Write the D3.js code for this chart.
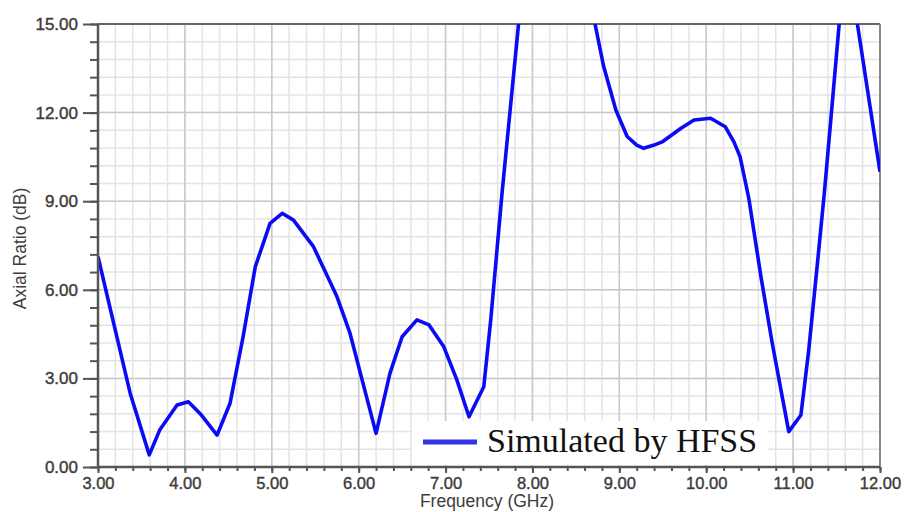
<!DOCTYPE html>
<html>
<head>
<meta charset="utf-8">
<script src="https://cdn.jsdelivr.net/npm/d3@7"></script>
<style>
  body { margin: 0; background: #fff; }
  svg { display: block; }
</style>
</head>
<body>
<svg id="chart" width="906" height="512"></svg>
<script>
// Axial ratio vs frequency
const freq = [3.00, 3.18, 3.37, 3.59, 3.71, 3.91, 4.04, 4.19, 4.37, 4.52, 4.67, 4.81, 4.98, 5.12, 5.25, 5.48, 5.75, 5.90,
  6.06, 6.20, 6.36, 6.50, 6.67, 6.81, 6.98, 7.13, 7.27, 7.44, 7.52, 7.65, 7.84, 8.10, 8.40, 8.72, 8.82, 8.96, 9.09, 9.20,
  9.28, 9.40, 9.50, 9.71, 9.86, 10.05, 10.22, 10.32, 10.39, 10.49, 10.63, 10.76, 10.86, 10.95, 11.09, 11.18, 11.28, 11.36,
  11.45, 11.53, 11.63, 11.74, 12.00];
const axialRatio = [7.12, 4.87, 2.50, 0.41, 1.25, 2.10, 2.21, 1.76, 1.08, 2.16, 4.41, 6.78, 8.25, 8.59, 8.36, 7.46, 5.77, 4.53,
  2.72, 1.14, 3.17, 4.41, 4.98, 4.81, 4.07, 2.95, 1.70, 2.72, 4.98, 9.27, 15.0, 19.5, 21.0, 15.0, 13.56, 12.09, 11.19, 10.90,
  10.79, 10.90, 11.02, 11.47, 11.75, 11.81, 11.52, 11.00, 10.50, 9.10, 6.44, 4.19, 2.61, 1.20, 1.76, 3.96, 6.90, 9.30,
  12.30, 15.0, 16.5, 15.0, 10.0];

const xTicks = [3, 4, 5, 6, 7, 8, 9, 10, 11, 12];
const yTicks = [0, 3, 6, 9, 12, 15];
const legendLabel = "Simulated by HFSS";

const data = freq.map((f, i) => ({ f: f, v: axialRatio[i] }));

const margin = { top: 24, right: 26, bottom: 45, left: 98 };
const width = 906 - margin.left - margin.right;
const height = 512 - margin.top - margin.bottom;

const svg = d3.select("#chart");
const g = svg.append("g").attr("transform", `translate(${margin.left}, ${margin.top})`);

const x = d3.scaleLinear().domain([3, 12]).range([0, width]);
const y = d3.scaleLinear().domain([0, 15]).range([height, 0]);

const minorX = d3.range(3, 12.001, 0.2);
const minorY = d3.range(0, 15.001, 0.6);

// grid - minor first, then major
g.selectAll(".gx-minor").data(minorX).enter().append("line")
  .attr("x1", d => x(d)).attr("x2", d => x(d)).attr("y1", 0).attr("y2", height)
  .attr("stroke", "#e4e4e4").attr("stroke-width", 1.5);
g.selectAll(".gy-minor").data(minorY).enter().append("line")
  .attr("y1", d => y(d)).attr("y2", d => y(d)).attr("x1", 0).attr("x2", width)
  .attr("stroke", "#e4e4e4").attr("stroke-width", 1.5);
g.selectAll(".gx-major").data(xTicks).enter().append("line")
  .attr("x1", d => x(d)).attr("x2", d => x(d)).attr("y1", 0).attr("y2", height)
  .attr("stroke", "#c9c9c9").attr("stroke-width", 1.5);
g.selectAll(".gy-major").data(yTicks).enter().append("line")
  .attr("y1", d => y(d)).attr("y2", d => y(d)).attr("x1", 0).attr("x2", width)
  .attr("stroke", "#c9c9c9").attr("stroke-width", 1.5);

// frame top / right
g.append("line").attr("x1", 0).attr("x2", width).attr("y1", 0).attr("y2", 0)
  .attr("stroke", "#666").attr("stroke-width", 2);
g.append("line").attr("x1", width).attr("x2", width).attr("y1", 0).attr("y2", height)
  .attr("stroke", "#888").attr("stroke-width", 2);

// curve, clipped to the plot
svg.append("defs").append("clipPath").attr("id", "clip")
  .append("rect").attr("x", 0).attr("y", 0).attr("width", width).attr("height", height);

const line = d3.line().x(d => x(d.f)).y(d => y(d.v));
g.append("path")
  .datum(data)
  .attr("clip-path", "url(#clip)")
  .attr("fill", "none")
  .attr("stroke", "#0a0af5")
  .attr("stroke-width", 3.6)
  .attr("stroke-linejoin", "round")
  .attr("d", line);

// axes
const axisFont = "Liberation Sans, Arial, sans-serif";

const yAxis = g.append("g")
  .call(d3.axisLeft(y).tickValues(minorY).tickSize(8).tickFormat(""));
yAxis.selectAll(".tick line").attr("stroke", "#555").attr("stroke-width", 2);
yAxis.select(".domain").remove();
const yMajor = g.append("g")
  .call(d3.axisLeft(y).tickValues(yTicks).tickSize(15).tickPadding(5).tickFormat(d3.format(".2f")));
yMajor.select(".domain").remove();
yMajor.selectAll(".tick line").attr("stroke", "#555").attr("stroke-width", 2);
yMajor.selectAll(".tick text")
  .attr("font-family", axisFont).attr("font-size", 17).attr("fill", "#3c3c3c")
  .attr("stroke", "#3c3c3c").attr("stroke-width", 0.4);

const xAxis = g.append("g").attr("transform", `translate(0, ${height})`)
  .call(d3.axisBottom(x).tickValues(minorX).tickSize(4).tickFormat(""));
xAxis.selectAll(".tick line").attr("stroke", "#555").attr("stroke-width", 2);
xAxis.select(".domain").remove();
const xMajor = g.append("g").attr("transform", `translate(0, ${height})`)
  .call(d3.axisBottom(x).tickValues(xTicks).tickSize(6).tickPadding(4).tickFormat(d3.format(".2f")));
xMajor.select(".domain").remove();
xMajor.selectAll(".tick line").attr("stroke", "#555").attr("stroke-width", 2);
xMajor.selectAll(".tick text")
  .attr("font-family", axisFont).attr("font-size", 16.5).attr("fill", "#3c3c3c")
  .attr("stroke", "#3c3c3c").attr("stroke-width", 0.4);

// axis lines
g.append("line").attr("x1", 0).attr("x2", 0).attr("y1", 0).attr("y2", height)
  .attr("stroke", "#555").attr("stroke-width", 2.5);
g.append("line").attr("x1", 0).attr("x2", width).attr("y1", height).attr("y2", height)
  .attr("stroke", "#555").attr("stroke-width", 2.5);

// axis titles
svg.append("text")
  .attr("x", margin.left + width / 2 - 2).attr("y", 507)
  .attr("text-anchor", "middle")
  .attr("font-family", axisFont).attr("font-size", 17.5).attr("fill", "#3c3c3c")
  .text("Frequency (GHz)");
svg.append("text")
  .attr("transform", `translate(26, ${margin.top + height / 2 + 3}) rotate(-90)`)
  .attr("text-anchor", "middle")
  .attr("font-family", axisFont).attr("font-size", 17.5).attr("fill", "#3c3c3c")
  .text("Axial Ratio (dB)");

// legend
const legend = svg.append("g").attr("transform", "translate(412, 421)");
legend.append("rect").attr("width", 356).attr("height", 44).attr("fill", "#fff");
legend.append("line").attr("x1", 11).attr("x2", 65).attr("y1", 21).attr("y2", 21)
  .attr("stroke", "#3535e0").attr("stroke-width", 5);
legend.append("text")
  .attr("x", 75).attr("y", 31)
  .attr("font-family", "Liberation Serif, Times New Roman, serif")
  .attr("font-size", 34).attr("fill", "#111")
  .text(legendLabel);
</script>
</body>
</html>
